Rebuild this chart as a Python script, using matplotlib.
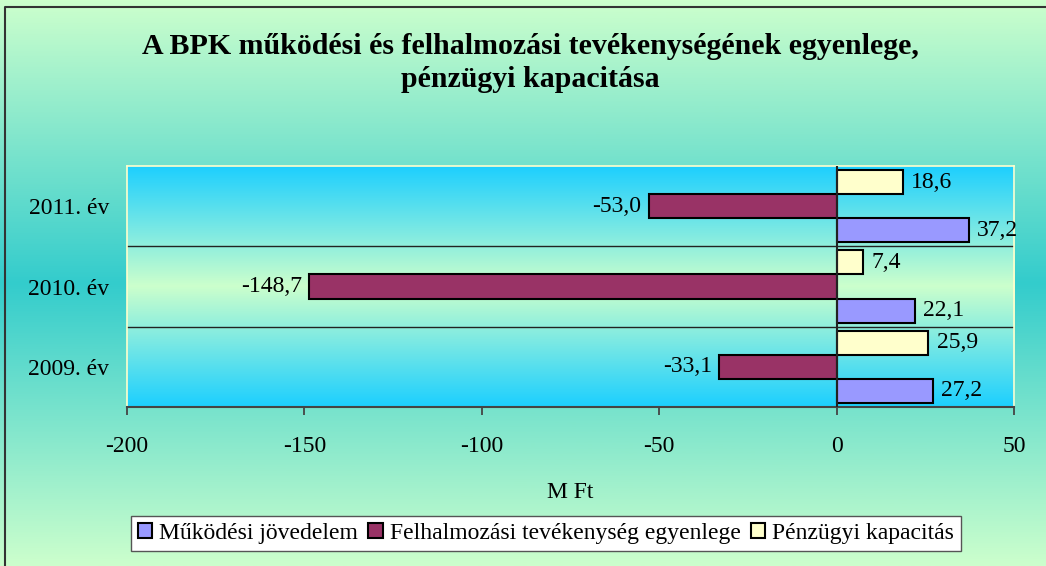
import matplotlib
matplotlib.use("Agg")
import matplotlib.pyplot as plt
import numpy as np
from matplotlib.colors import LinearSegmentedColormap

# adatok
evek = ["2009. év", "2010. év", "2011. év"]
mukodesi = [27.2, 22.1, 37.2]
felhalmozasi = [-33.1, -148.7, -53.0]
penzugyi = [25.9, 7.4, 18.6]
sorozat_nevek = ["Működési jövedelem", "Felhalmozási tevékenység egyenlege", "Pénzügyi kapacitás"]
x_ticks = [-200, -150, -100, -50, 0, 50]

plt.rcParams['font.family'] = ['Liberation Serif', 'DejaVu Serif']

fig = plt.figure(figsize=(10.46, 5.66), dpi=100)

# háttér színátmenet (figure)
bg = fig.add_axes([0, 0, 1, 1], zorder=-10)
bg_cmap = LinearSegmentedColormap.from_list("bg", ["#ccffcc", "#33cccc", "#ccffcc"])
bg.imshow(np.linspace(0, 1, 256).reshape(-1, 1), aspect="auto", cmap=bg_cmap,
          extent=[0, 1, 0, 1], origin="upper")
bg.plot([0.005, 0.005, 1], [0, 0.988, 0.988], color="#333333", lw=1.5)
bg.set_xlim(0, 1)
bg.set_ylim(0, 1)
bg.axis("off")

ax = fig.add_axes([0.1214, 0.2809, 0.848, 0.4258])
pa_cmap = LinearSegmentedColormap.from_list("pa", ["#1ccfff", "#ccffcc", "#1ccfff"])
ax.imshow(np.linspace(0, 1, 256).reshape(-1, 1), aspect="auto", cmap=pa_cmap,
          extent=[-200, 50, -0.5, 2.5], origin="upper", zorder=0)

y = np.arange(len(evek))
h = 0.3
ax.barh(y - h, mukodesi, height=h, color="#9999ff", edgecolor="black", lw=1.5, zorder=3, label=sorozat_nevek[0])
ax.barh(y, felhalmozasi, height=h, color="#993366", edgecolor="black", lw=1.5, zorder=3, label=sorozat_nevek[1])
ax.barh(y + h, penzugyi, height=h, color="#ffffcc", edgecolor="black", lw=1.5, zorder=3, label=sorozat_nevek[2])

def cimke(ertekek, off):
    for i, v in enumerate(ertekek):
        s = ("%.1f" % v).replace(".", ",")
        if v >= 0:
            ax.annotate(s, (v, i + off), xytext=(6, 0), textcoords="offset points",
                        ha="left", va="center", fontsize=17, zorder=5)
        else:
            ax.annotate(s, (v, i + off), xytext=(-5, 0), textcoords="offset points",
                        ha="right", va="center", fontsize=17, zorder=5)

cimke(mukodesi, -h)
cimke(felhalmozasi, 0)
cimke(penzugyi, h)

# kategória határvonalak
for yy in [0.5, 1.5]:
    ax.axhline(yy, color="#222222", lw=1.0, zorder=2)
ax.axvline(0, color="#222222", lw=1.5, zorder=4)

ax.set_xlim(-200, 50)
ax.set_ylim(-0.5, 2.5)
ax.set_xticks(x_ticks)
ax.set_xticklabels([str(t) for t in x_ticks], fontsize=17)
ax.set_yticks(y)
ax.set_yticklabels(evek, fontsize=17)
ax.tick_params(axis="y", length=0, pad=13)
ax.tick_params(axis="x", length=6, width=1.3, color="#444444", pad=15)

for s in ["left", "top", "right"]:
    ax.spines[s].set_color("#ffffcc")
    ax.spines[s].set_linewidth(1.2)
ax.spines["bottom"].set_color("#444444")
ax.spines["bottom"].set_linewidth(1.5)

ax.set_xlabel("M Ft", fontsize=17, labelpad=18)

fig.text(0.507, 0.889, "A BPK működési és felhalmozási tevékenységének egyenlege,\npénzügyi kapacitása",
         ha="center", va="center", fontsize=21.5, fontweight="bold", linespacing=1.3)

leg = fig.legend(loc="center", bbox_to_anchor=(0.522, 0.058), ncol=3, fontsize=17,
                 frameon=True, fancybox=False, edgecolor="#555555", framealpha=1,
                 handlelength=0.6, handleheight=0.6, handletextpad=0.3, columnspacing=0.45,
                 borderpad=0.3)
leg.get_frame().set_linewidth(1.0)

fig.savefig("out.png", dpi=100)
